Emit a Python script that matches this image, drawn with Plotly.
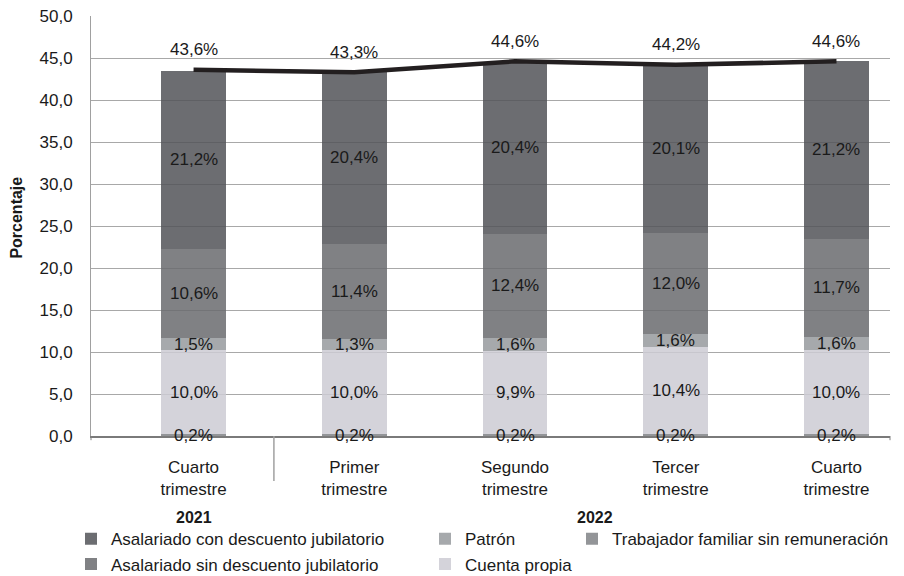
import plotly.graph_objects as go
import numpy as np

categories = ["Cuarto<br>trimestre", "Primer<br>trimestre", "Segundo<br>trimestre",
              "Tercer<br>trimestre", "Cuarto<br>trimestre"]
years = ["2021", "2022"]
trabajador_familiar = [0.2, 0.2, 0.2, 0.2, 0.2]
cuenta_propia = [10.0, 10.0, 9.9, 10.4, 10.0]
patron = [1.5, 1.3, 1.6, 1.6, 1.6]
asal_sin = [10.6, 11.4, 12.4, 12.0, 11.7]
asal_con = [21.2, 20.4, 20.4, 20.1, 21.2]
totals = [43.6, 43.3, 44.6, 44.2, 44.6]

FONT = "Liberation Sans, Arial, sans-serif"
FS = 17
x = list(range(len(categories)))

series = [
    ("Trabajador familiar sin remuneración", trabajador_familiar, "rgba(128,130,134,0.85)", "legend3"),
    ("Cuenta propia", cuenta_propia, "rgba(205,203,212,0.85)", "legend2"),
    ("Patrón", patron, "rgba(151,154,157,0.85)", "legend2"),
    ("Asalariado sin descuento jubilatorio", asal_sin, "rgba(106,107,110,0.85)", "legend"),
    ("Asalariado con descuento jubilatorio", asal_con, "rgba(82,83,88,0.85)", "legend"),
]

fig = go.Figure()
annotations = []
base = np.zeros(len(x))
for name, vals, color, lg in series:
    vals = np.array(vals)
    fig.add_trace(go.Bar(x=x, y=vals, name=name, marker=dict(color=color, line=dict(width=0)),
                         width=0.404, legend=lg, hoverinfo="name+y"))
    mids = base + vals / 2
    for xi, m, v in zip(x, mids, vals):
        annotations.append(dict(x=xi, y=m, xref="x", yref="y", text=f"{v:.1f}%".replace(".", ","),
                                showarrow=False, font=dict(family=FONT, size=FS, color="#1a1a1a")))
    base = base + vals

fig.add_trace(go.Scatter(x=x, y=totals, mode="lines", line=dict(color="#231f20", width=4.5),
                         showlegend=False, hoverinfo="y"))
for xi, t in zip(x, totals):
    annotations.append(dict(x=xi, y=t, xref="x", yref="y", text=f"{t:.1f}%".replace(".", ","),
                            showarrow=False, yshift=20, font=dict(family=FONT, size=FS, color="#1a1a1a")))

# year group labels
annotations.append(dict(x=0, y=-0.193, xref="x", yref="paper", yanchor="middle", text="<b>" + years[0] + "</b>",
                        showarrow=False, font=dict(family=FONT, size=16, color="#1a1a1a")))
annotations.append(dict(x=2.5, y=-0.193, xref="x", yref="paper", yanchor="middle", text="<b>" + years[1] + "</b>",
                        showarrow=False, font=dict(family=FONT, size=16, color="#1a1a1a")))
# y title
annotations.append(dict(x=-0.0926, y=0.52, xref="paper", yref="paper", xanchor="center", yanchor="middle",
                        text="<b>Porcentaje</b>", textangle=-90, showarrow=False,
                        font=dict(family=FONT, size=16, color="#1a1a1a")))

shapes = [
    dict(type="line", xref="x", yref="paper", x0=0.5, x1=0.5, y0=0, y1=-0.107,
         line=dict(color="#a0a0a0", width=1.5)),
    dict(type="line", xref="paper", yref="paper", x0=0, x1=0, y0=0, y1=-0.01,
         line=dict(color="#808080", width=1)),
    dict(type="line", xref="paper", yref="paper", x0=1, x1=1, y0=0, y1=-0.01,
         line=dict(color="#808080", width=1)),
]

legend_common = dict(orientation="v", font=dict(family=FONT, size=FS, color="#1a1a1a"),
                     bgcolor="rgba(0,0,0,0)", traceorder="reversed", yanchor="top",
                     xanchor="left", tracegroupgap=0, itemclick=False, itemdoubleclick=False,
                     xref="container", yref="container")

fig.update_layout(
    width=904, height=576,
    margin=dict(l=91, r=14, t=16, b=140, autoexpand=False),
    paper_bgcolor="white", plot_bgcolor="white",
    barmode="stack", bargap=0,
    separators=",.",
    font=dict(family=FONT, size=FS, color="#1a1a1a"),
    xaxis=dict(range=[-0.638, 4.333], tickmode="array", tickvals=x, ticktext=categories,
               showgrid=False, zeroline=False, showline=True, linecolor="#7a7a7a", linewidth=1.5,
               ticks="", ticklabelstandoff=15, tickfont=dict(family=FONT, size=FS, color="#1a1a1a"),
               fixedrange=True, automargin=False),
    yaxis=dict(range=[0, 50], dtick=5, tickformat=".1f", showgrid=True, gridcolor="#a8a8a8",
               gridwidth=1, zeroline=False, showline=True, linecolor="#a0a0a0", linewidth=1,
               ticks="", ticklabelstandoff=14, tickfont=dict(family=FONT, size=FS, color="#1a1a1a"),
               fixedrange=True, automargin=False),
    legend=dict(x=71 / 904, y=0.095, **legend_common),
    legend2=dict(x=425 / 904, y=0.095, **legend_common),
    legend3=dict(x=572 / 904, y=0.095, **legend_common),
    annotations=annotations,
    shapes=shapes,
    showlegend=True,
)

fig.write_html("out.html", config={"displayModeBar": False},
               post_script="document.body.style.margin='0';document.body.style.overflow='hidden';")
